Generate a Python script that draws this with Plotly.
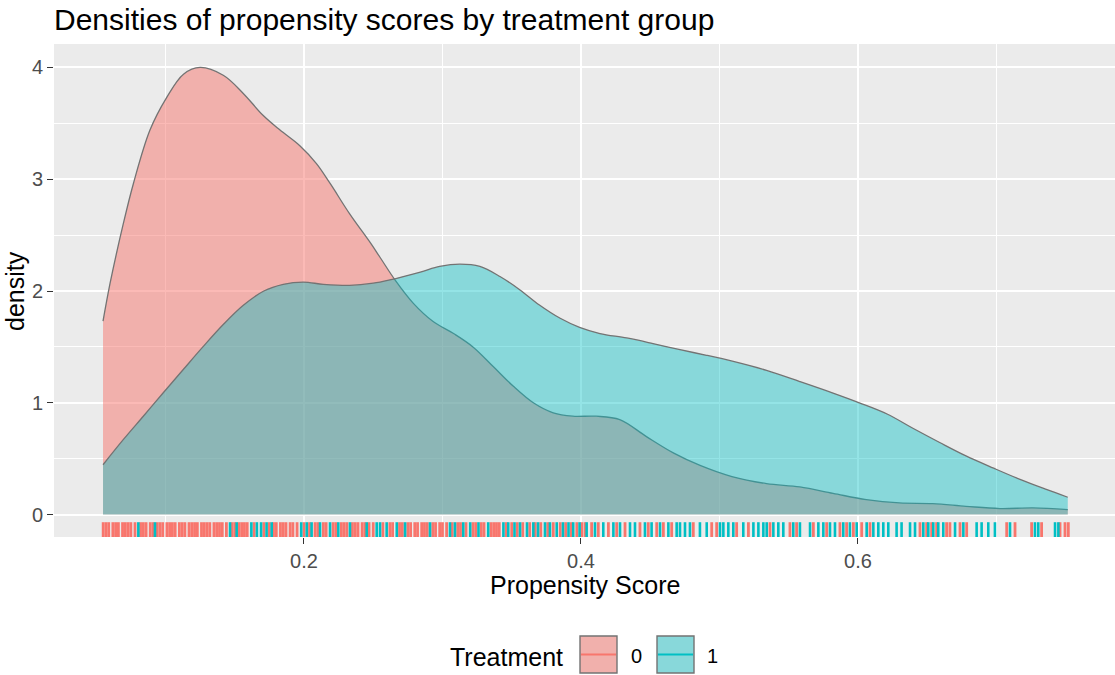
import plotly.graph_objects as go

# ---------------- data ----------------
# density curve for Treatment = 0
dens0_x = [0.0549, 0.060, 0.0695, 0.0768, 0.0888, 0.1008, 0.113, 0.125, 0.1417, 0.156,
           0.1706, 0.1827, 0.197, 0.209, 0.219, 0.233, 0.248, 0.255, 0.2657, 0.279,
           0.293, 0.308, 0.322, 0.337, 0.351, 0.3656, 0.380, 0.394, 0.411, 0.428,
           0.447, 0.467, 0.486, 0.509, 0.534, 0.558, 0.582, 0.606, 0.630, 0.654,
           0.678, 0.7025, 0.7266, 0.7515]
dens0_y = [1.73, 2.07, 2.60, 2.96, 3.44, 3.73, 3.94, 4.00, 3.93, 3.77,
           3.57, 3.44, 3.30, 3.14, 2.96, 2.69, 2.43, 2.30, 2.10, 1.89,
           1.73, 1.62, 1.50, 1.32, 1.15, 1.00, 0.91, 0.88, 0.88, 0.85,
           0.70, 0.55, 0.44, 0.34, 0.277, 0.247, 0.19, 0.134, 0.104, 0.098,
           0.074, 0.054, 0.06, 0.045]

# density curve for Treatment = 1
dens1_x = [0.0549, 0.0695, 0.084, 0.0984, 0.113, 0.127, 0.1417, 0.156, 0.171, 0.185,
           0.1995, 0.214, 0.233, 0.250, 0.262, 0.284, 0.298, 0.3126, 0.327, 0.3415,
           0.356, 0.370, 0.385, 0.399, 0.4137, 0.433, 0.452, 0.4715, 0.4907, 0.510,
           0.534, 0.558, 0.582, 0.601, 0.621, 0.640, 0.659, 0.678, 0.698, 0.717,
           0.736, 0.7515]
dens1_y = [0.446, 0.67, 0.88, 1.09, 1.30, 1.50, 1.70, 1.87, 2.00, 2.06,
           2.08, 2.06, 2.05, 2.07, 2.10, 2.17, 2.22, 2.24, 2.22, 2.13,
           2.01, 1.875, 1.756, 1.675, 1.62, 1.58, 1.53, 1.475, 1.425, 1.37,
           1.29, 1.19, 1.087, 1.00, 0.90, 0.77, 0.645, 0.525, 0.415, 0.315,
           0.225, 0.155]

# rug: individual propensity scores, Treatment = 0
rug0 = [0.055, 0.057, 0.059, 0.062, 0.064, 0.066, 0.069, 0.071, 0.073, 0.075,
        0.078, 0.082, 0.084, 0.086, 0.089, 0.091, 0.094, 0.096, 0.098, 0.101,
        0.103, 0.105, 0.107, 0.110, 0.112, 0.114, 0.117, 0.119, 0.121, 0.123,
        0.126, 0.128, 0.130, 0.132, 0.135, 0.137, 0.139, 0.141, 0.144, 0.148,
        0.150, 0.153, 0.155, 0.157, 0.159, 0.164, 0.171, 0.175, 0.178, 0.180,
        0.183, 0.185, 0.187, 0.190, 0.192, 0.195, 0.200, 0.204, 0.208, 0.210,
        0.214, 0.216, 0.221, 0.223, 0.227, 0.229, 0.231, 0.235, 0.237, 0.239,
        0.242, 0.244, 0.247, 0.250, 0.257, 0.262, 0.264, 0.269, 0.271, 0.275,
        0.277, 0.280, 0.282, 0.285, 0.287, 0.289, 0.293, 0.295, 0.298, 0.300,
        0.303, 0.307, 0.311, 0.313, 0.317, 0.322, 0.324, 0.328, 0.330, 0.335,
        0.337, 0.339, 0.341, 0.346, 0.350, 0.354, 0.358, 0.363, 0.367, 0.371,
        0.376, 0.380, 0.385, 0.389, 0.393, 0.397, 0.4005, 0.4029, 0.4077, 0.4125,
        0.4198, 0.4258, 0.4318, 0.4426, 0.4486, 0.4547, 0.4595, 0.4655, 0.4811, 0.4944,
        0.4980, 0.5124, 0.5209, 0.5365, 0.5509, 0.5557, 0.5678, 0.5774, 0.5870, 0.5918,
        0.5967, 0.6027, 0.6087, 0.6448, 0.6496, 0.6532, 0.6568, 0.6640, 0.6664, 0.6737,
        0.6785, 0.7074, 0.7134, 0.7254, 0.7326, 0.7459, 0.7495, 0.7519]

# rug: individual propensity scores, Treatment = 1
rug1 = [0.0804, 0.0924, 0.1466, 0.1514, 0.162, 0.166, 0.169, 0.173, 0.1767, 0.198,
        0.202, 0.2055, 0.2116, 0.2188, 0.2248, 0.2332, 0.2453, 0.2525, 0.2549, 0.2597,
        0.267, 0.273, 0.291, 0.3054, 0.309, 0.315, 0.320, 0.326, 0.333, 0.344,
        0.3475, 0.352, 0.356, 0.361, 0.3656, 0.369, 0.374, 0.3776, 0.3825, 0.387,
        0.391, 0.3944, 0.399, 0.4041, 0.4101, 0.4161, 0.4234, 0.4282, 0.4354, 0.4390,
        0.4462, 0.4510, 0.4571, 0.4631, 0.4691, 0.4715, 0.4751, 0.4787, 0.4859, 0.4908,
        0.5004, 0.5028, 0.5064, 0.5100, 0.5172, 0.5245, 0.5281, 0.5317, 0.5341, 0.5389,
        0.5425, 0.5461, 0.5533, 0.5581, 0.5654, 0.5714, 0.5750, 0.5798, 0.5834, 0.5894,
        0.5942, 0.5991, 0.6063, 0.6111, 0.6147, 0.6183, 0.6219, 0.6279, 0.6315, 0.6376,
        0.6412, 0.6472, 0.6508, 0.6544, 0.6580, 0.6616, 0.6701, 0.6761, 0.6857, 0.6893,
        0.6941, 0.6989, 0.7098, 0.7278, 0.7302, 0.7423, 0.7447]

groups = ["0", "1"]
x_ticks = [0.2, 0.4, 0.6]
y_ticks = [0, 1, 2, 3, 4]

# ---------------- style ----------------
RED = "#F8766D"
CYAN = "#00BFC4"
FILL0 = "rgba(248,118,109,0.5)"
FILL1 = "rgba(0,191,196,0.42)"
OUTLINE = "#737373"
FONT = "Liberation Sans, Arial, Helvetica, sans-serif"

W, H = 1115, 675
L, R, T, B = 54, 0, 44, 138
PW, PH = W - L - R, H - T - B

XR = [0.0195, 0.7856]
YR = [-0.2005, 4.21]
RUG_TOP = YR[0] + 0.03 * (YR[1] - YR[0])


def px_x(p):
    return (p - L) / PW


def px_y(p):
    return (H - B - p) / PH


def rug_xy(vals):
    xs, ys = [], []
    for v in vals:
        xs += [v, v, None]
        ys += [YR[0], RUG_TOP, None]
    return xs, ys


fig = go.Figure()

fig.add_trace(go.Scatter(x=dens0_x, y=dens0_y, mode="lines", fill="tozeroy",
                         fillcolor=FILL0, line=dict(color=OUTLINE, width=1.3, shape="spline", smoothing=1.0),
                         showlegend=False, hoverinfo="skip"))
fig.add_trace(go.Scatter(x=dens1_x, y=dens1_y, mode="lines", fill="tozeroy",
                         fillcolor=FILL1, line=dict(color=OUTLINE, width=1.3, shape="spline", smoothing=1.0),
                         showlegend=False, hoverinfo="skip"))

rx, ry = rug_xy(rug0)
fig.add_trace(go.Scatter(x=rx, y=ry, mode="lines", line=dict(color=RED, width=2.8),
                         showlegend=False, hoverinfo="skip"))
rx, ry = rug_xy(rug1)
fig.add_trace(go.Scatter(x=rx, y=ry, mode="lines", line=dict(color=CYAN, width=2.6),
                         showlegend=False, hoverinfo="skip"))

# ---------------- manual ggplot-like legend ----------------
shapes = []
annotations = []
key_boxes = [(580, 617), (657, 694)]
key_fill = [FILL0, FILL1]
key_line = [RED, CYAN]
label_cx = [636, 712]
ky0, ky1 = 636, 673
for i, g in enumerate(groups):
    x0, x1 = key_boxes[i]
    shapes.append(dict(type="rect", xref="paper", yref="paper",
                       x0=px_x(x0), x1=px_x(x1), y0=px_y(ky1), y1=px_y(ky0),
                       fillcolor="#EBEBEB", line=dict(width=0), layer="above"))
    shapes.append(dict(type="rect", xref="paper", yref="paper",
                       x0=px_x(x0), x1=px_x(x1), y0=px_y(ky1), y1=px_y(ky0),
                       fillcolor=key_fill[i], line=dict(color=OUTLINE, width=1.4), layer="above"))
    shapes.append(dict(type="line", xref="paper", yref="paper",
                       x0=px_x(x0 + 1), x1=px_x(x1 - 1), y0=px_y(654.5), y1=px_y(654.5),
                       line=dict(color=key_line[i], width=2), layer="above"))
    annotations.append(dict(text=g, xref="paper", yref="paper", x=px_x(label_cx[i]), y=px_y(656),
                            xanchor="center", yanchor="middle", showarrow=False,
                            font=dict(family=FONT, size=20, color="#000000")))

annotations.append(dict(text="Treatment", xref="paper", yref="paper", x=px_x(565), y=px_y(657),
                        xanchor="right", yanchor="middle", showarrow=False,
                        font=dict(family=FONT, size=25, color="#000000")))

# axis titles
annotations.append(dict(text="Propensity Score", xref="paper", yref="paper", x=px_x(585), y=px_y(585),
                        xanchor="center", yanchor="middle", showarrow=False,
                        font=dict(family=FONT, size=25, color="#000000")))
annotations.append(dict(text="density", xref="paper", yref="paper", x=px_x(15), y=px_y(291),
                        xanchor="center", yanchor="middle", showarrow=False, textangle=-90,
                        font=dict(family=FONT, size=25, color="#000000")))

fig.update_layout(
    width=W, height=H,
    margin=dict(l=L, r=R, t=T, b=B, pad=0),
    paper_bgcolor="white",
    plot_bgcolor="#EBEBEB",
    showlegend=False,
    title=dict(text="Densities of propensity scores by treatment group",
               x=px_x(54), xref="paper", xanchor="left",
               y=1 - 19 / H, yref="container", yanchor="middle",
               font=dict(family=FONT, size=30, color="#000000")),
    shapes=shapes,
    annotations=annotations,
    xaxis=dict(range=XR, tickvals=x_ticks, ticktext=[f"{v:.1f}" for v in x_ticks],
               showgrid=True, gridcolor="white", gridwidth=1.6,
               minor=dict(tickvals=[0.1, 0.3, 0.5, 0.7], showgrid=True, gridcolor="white", gridwidth=0.8),
               zeroline=False, showline=False,
               ticks="outside", ticklen=6, tickwidth=1.2, tickcolor="#333333",
               tickfont=dict(family=FONT, size=20, color="#4D4D4D")),
    yaxis=dict(range=YR, tickvals=y_ticks, ticktext=[str(v) for v in y_ticks],
               showgrid=True, gridcolor="white", gridwidth=1.6,
               minor=dict(tickvals=[0.5, 1.5, 2.5, 3.5], showgrid=True, gridcolor="white", gridwidth=0.8),
               zeroline=False, showline=False,
               ticks="outside", ticklen=6, tickwidth=1.2, tickcolor="#333333",
               tickfont=dict(family=FONT, size=20, color="#4D4D4D")),
)

fig.write_html("out.html")
